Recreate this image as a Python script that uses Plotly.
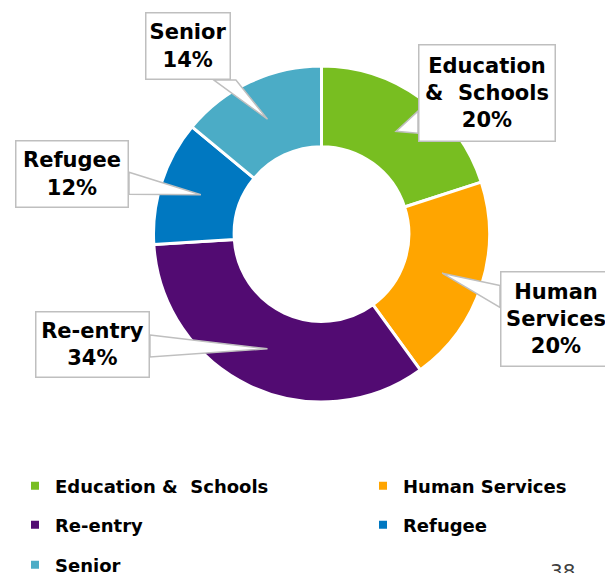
import math
import plotly.graph_objects as go

# ---- data ----
categories = ["Education &  Schools", "Human Services", "Re-entry", "Refugee", "Senior"]
shares = [20, 20, 34, 12, 14]
colors = ["#78BE21", "#FFA500", "#520B72", "#0078C1", "#4BACC6"]
callout_names = ["Education<br>&\u00a0 Schools", "Human<br>Services", "Re-entry", "Refugee", "Senior"]
page_number = "38"

# ---- layout constants (screen pixels) ----
W, H = 613, 573
OFF = 8  # page body margin offset of the figure
CX, CY, R = 321.5, 234.0, 168.0
HOLE = 0.52
TIP_R = 0.755
FONT = "DejaVu Sans"

# callout boxes: centre x, centre y, width, height
boxes = [
    (487, 93, 138, 98),
    (556, 319, 112, 96),
    (92.5, 344.5, 115, 67),
    (72, 174, 114, 68),
    (188, 46, 86, 68),
]
# legend entry positions (left px, centre y px)
legend_pos = [(15, 486), (363, 486), (15, 525), (363, 525), (15, 565)]


def px(x):
    return (x - OFF) / W


def py(y):
    return 1 - (y - OFF) / H


fig = go.Figure()

fig.add_trace(go.Pie(
    labels=categories,
    values=shares,
    sort=False,
    direction="clockwise",
    rotation=0,
    hole=HOLE,
    marker=dict(colors=colors, line=dict(color="white", width=3)),
    textinfo="none",
    hoverinfo="label+percent",
    showlegend=False,
    domain=dict(x=[px(CX - R), px(CX + R)], y=[py(CY + R), py(CY - R)]),
))

# legend entries (one legend per entry so rows/columns sit where they should)
layout_legends = {}
for i, (name, col) in enumerate(zip(categories, colors)):
    key = "legend" if i == 0 else f"legend{i + 1}"
    fig.add_trace(go.Scatter(
        x=[None], y=[None], mode="markers", name=name.replace("  ", "\u00a0 "),
        marker=dict(symbol="square", size=8, color=col),
        legend=key, showlegend=True, hoverinfo="skip",
    ))
    lx, ly = legend_pos[i]
    layout_legends[key] = dict(
        x=px(lx), y=py(ly), xanchor="left", yanchor="middle",
        bgcolor="rgba(0,0,0,0)", borderwidth=0,
        font=dict(family=FONT, size=18, color="#000000", weight="bold"),
    )

# callouts
total = sum(shares)
cum = 0
shapes = []
annotations = []
for i, v in enumerate(shares):
    mid = (cum + v / 2) / total
    cum += v
    ang = 2 * math.pi * mid
    tx = CX + TIP_R * R * math.sin(ang)
    ty = CY - TIP_R * R * math.cos(ang)
    bx, by, bw, bh = boxes[i]
    dx, dy = tx - bx, ty - by
    hw, hh = bw / 2, bh / 2
    tv = hw / abs(dx) if dx else 1e9
    th = hh / abs(dy) if dy else 1e9
    t = min(tv, th)
    ex, ey = bx + t * dx, by + t * dy
    half = 11
    if tv < th:
        b1, b2 = (ex, ey - half), (ex, ey + half)
    else:
        b1, b2 = (ex - half, ey), (ex + half, ey)
    path = "M {:.4f},{:.4f} L {:.4f},{:.4f} L {:.4f},{:.4f} Z".format(
        px(b1[0]), py(b1[1]), px(tx), py(ty), px(b2[0]), py(b2[1]))
    shapes.append(dict(type="path", path=path, xref="paper", yref="paper",
                       fillcolor="white", line=dict(color="#BFBFBF", width=1.5),
                       layer="above"))
    pct = round(100 * v / total)
    annotations.append(dict(
        x=px(bx), y=py(by), xref="paper", yref="paper",
        xanchor="center", yanchor="middle",
        text=f"{callout_names[i]}<br>{pct}%",
        showarrow=False, align="center",
        width=bw - 3, height=bh - 3, borderpad=0,
        bgcolor="white", bordercolor="#BFBFBF", borderwidth=1.5,
        font=dict(family=FONT, size=21, color="#000000", weight="bold"),
    ))

annotations.append(dict(
    x=px(562), y=py(557), xref="paper", yref="paper",
    xanchor="center", yanchor="top", text=page_number, showarrow=False,
    font=dict(family=FONT, size=20, color="#404040"),
))

fig.update_layout(
    width=W, height=H,
    margin=dict(l=0, r=0, t=0, b=0, autoexpand=False),
    paper_bgcolor="white", plot_bgcolor="white",
    showlegend=True,
    xaxis=dict(visible=False), yaxis=dict(visible=False),
    shapes=shapes, annotations=annotations,
    **layout_legends,
)

fig.write_html("out.html")
